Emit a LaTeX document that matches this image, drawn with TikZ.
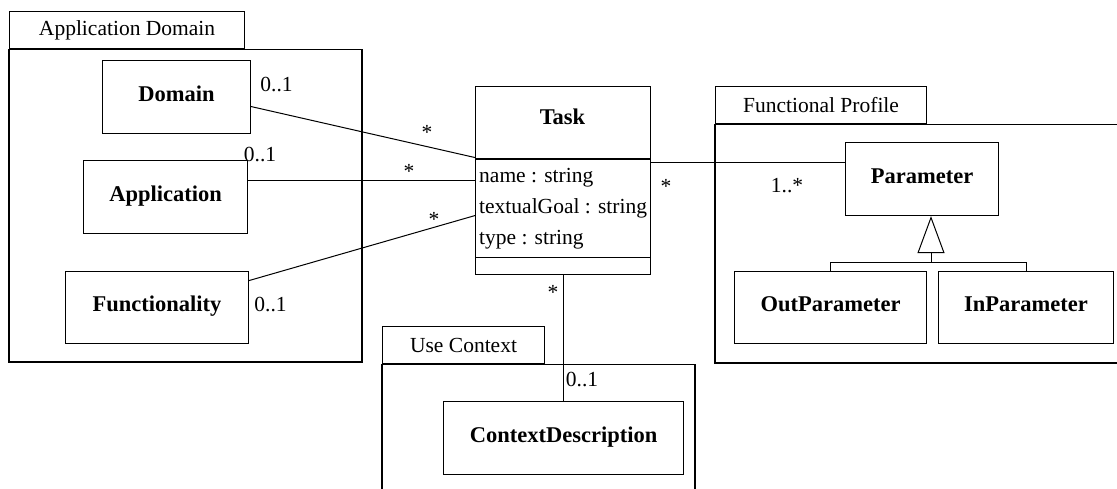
\documentclass[tikz,border=0pt]{standalone}
\usepackage{fontspec}
\setmainfont{Liberation Serif}
\usetikzlibrary{arrows.meta,positioning}

\begin{document}
\begin{tikzpicture}[
    x=1pt, y=-1pt,
    font=\fontsize{21.5}{26}\selectfont,
    % Styles
    classbox/.style={rectangle, draw=black, line width=1.1pt, anchor=north west, font=\fontsize{22.5}{26}\selectfont\bfseries, text height=15pt, text depth=7pt, inner sep=0pt},
    pkgtab/.style={rectangle, draw=black, line width=1.1pt, anchor=north west, inner sep=0pt},
    pkgbody/.style={draw=black, line width=1.1pt},
    tabline/.style={draw=black, line width=2.2pt},
    assoc/.style={-, draw=black, line width=1pt},
    gen/.style={-{Triangle[open, length=37pt, width=27pt, fill=white]}, draw=black, line width=1pt},
    mult/.style={inner sep=0pt, anchor=base},
    attr/.style={inner sep=0pt, anchor=base west}
]

% --- Frame ---
\useasboundingbox (0,0) rectangle (1117,489);
\clip (0,0) rectangle (1117,489);

% --- Packages ---
\node[pkgtab, minimum width=235pt, minimum height=37pt] (tabappdom) at (9,11) {Application Domain};
\draw[pkgbody] (tabappdom.south west) rectangle (362,362);
\draw[tabline] (tabappdom.south west) -- (tabappdom.south east);

\node[pkgtab, minimum width=211pt, minimum height=37pt] (tabfunc) at (715,86) {Functional Profile};
\draw[pkgbody] (tabfunc.south west) rectangle (1140,363);
\draw[tabline] (tabfunc.south west) -- (tabfunc.south east);

\node[pkgtab, minimum width=162pt, minimum height=37pt] (tabuse) at (382,326) {Use Context};
\draw[pkgbody] (tabuse.south west) rectangle (695,510);
\draw[tabline] (tabuse.south west) -- (tabuse.south east);

% --- Application Domain classes ---
\node[classbox, minimum width=148pt, minimum height=73pt] (domain) at (102,60) {Domain};
\node[classbox, minimum width=164pt, minimum height=73pt] (application) at (83,160) {Application};
\node[classbox, minimum width=183pt, minimum height=72pt] (functionality) at (65,271) {Functionality};

% --- Task class ---
\node[rectangle, draw=black, line width=1.1pt, anchor=north west, minimum width=175pt, minimum height=188pt, inner sep=0pt] (task) at (475,86) {};
\node[mult, font=\fontsize{22.5}{26}\selectfont\bfseries] (tasktitle) at (562.5,125) {Task};
\draw[pkgbody] ([yshift=-73pt]task.north west) -- ([yshift=-73pt]task.north east);
\draw[pkgbody] ([yshift=18pt]task.south west) -- ([yshift=18pt]task.south east);
\node[attr] (attrname) at (479,183) {name : string};
\node[attr] (attrgoal) at (479,214) {textualGoal : string};
\node[attr] (attrtype) at (479,245) {type : string};

% --- Functional Profile classes ---
\node[classbox, minimum width=153pt, minimum height=73pt] (param) at (845,142) {Parameter};
\node[classbox, minimum width=192pt, minimum height=72pt] (outparam) at (734,271) {OutParameter};
\node[classbox, minimum width=175pt, minimum height=72pt] (inparam) at (938,271) {InParameter};

% --- Use Context class ---
\node[classbox, minimum width=240pt, minimum height=73pt] (ctxdesc) at (443,401) {ContextDescription};

% --- Associations ---
\draw[assoc] ([yshift=-9.5pt]domain.east) -- ([yshift=23pt]task.west);
\draw[assoc] ([yshift=16.5pt]application.east) -- (task.west);
\draw[assoc] ([yshift=27pt]functionality.east) -- ([yshift=-35pt]task.west);
\draw[assoc] ([yshift=18pt]task.east) -- ([yshift=18pt]task.east -| param.west);
\draw[assoc] (task.south) -- (task.south |- ctxdesc.north);

% --- Generalization ---
\coordinate (genjoin) at (931,263);
\draw[assoc] (outparam.north) |- (genjoin);
\draw[assoc] (inparam.north) |- (genjoin);
\draw[gen] (genjoin) -- (genjoin |- param.south);

% --- Multiplicities ---
\node[mult] (mdomain) at (276.5,92) {0..1};
\node[mult] (mapp) at (260,162) {0..1};
\node[mult] (mfunc) at (270.5,312) {0..1};
\node[mult] (mtaskdom) at (427,140) {*};
\node[mult] (mtaskapp) at (409,179) {*};
\node[mult] (mtaskfunc) at (434,227) {*};
\node[mult] (mtaskpar) at (666,194) {*};
\node[mult] (mparam) at (787,193) {1..*};
\node[mult] (mtaskctx) at (553,300) {*};
\node[mult] (mctx) at (582,386) {0..1};

\end{tikzpicture}
\end{document}
